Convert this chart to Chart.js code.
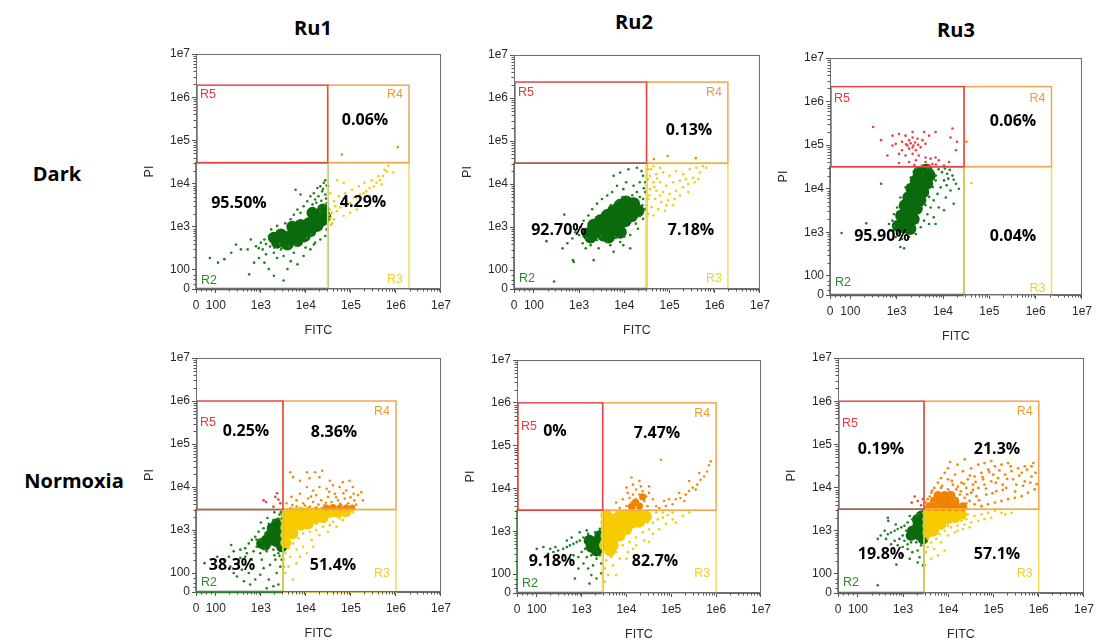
<!DOCTYPE html>
<html><head><meta charset="utf-8">
<script src="https://cdn.jsdelivr.net/npm/chart.js@4.4.1/dist/chart.umd.min.js"></script>
<style>
html,body{margin:0;padding:0;background:#fff;}
body{width:1098px;height:640px;position:relative;overflow:hidden;}
.ttl{position:absolute;font-family:'Open Sans',sans-serif;font-weight:700;color:#000;transform:translate(-50%,-50%);white-space:nowrap;font-size:20px;}
canvas{position:absolute;}
</style></head><body>
<script>
// ---------- text ----------
const columnTitles = ['Ru1', 'Ru2', 'Ru3'];
const rowTitles = ['Dark', 'Normoxia'];
const xAxisTitle = 'FITC';
const yAxisTitle = 'PI';
const tickValues = [0, 100, 1e3, 1e4, 1e5, 1e6, 1e7];
const tickLabels = ['0', '100', '1e3', '1e4', '1e5', '1e6', '1e7'];
const regionNames = ['R2', 'R3', 'R4', 'R5'];

// ---------- gates (per panel: Ru1 Dark, Ru2 Dark, Ru3 Dark, Ru1 Normoxia, Ru2 Normoxia, Ru3 Normoxia) ----------
const gateQuadX = [3.05e4, 3.1e4, 2.85e4, 3.1e3, 2.95e3, 2.9e3];
const gateQuadY = [3.05e4, 3.05e4, 3.2e4, 3.0e3, 3.1e3, 3.15e3];
const gateMaxX = [1.95e6, 1.95e6, 2.2e6, 1e6, 1e6, 1e6];
const gateMaxY = [1.9e6, 2.35e6, 2.2e6, 1e6, 1e6, 1e6];

// ---------- percentages ----------
const pctR2 = ['95.50%', '92.70%', '95.90%', '38.3%', '9.18%', '19.8%'];
const pctR3 = ['4.29%', '7.18%', '0.04%', '51.4%', '82.7%', '57.1%'];
const pctR4 = ['0.06%', '0.13%', '0.06%', '8.36%', '7.47%', '21.3%'];
const pctR5 = [null, null, null, '0.25%', '0%', '0.19%'];

// ---------- events [FITC, PI] ----------
// Ru1 Dark
const ru1DarkLiveCore = [[2.3e3,430],[3.2e3,510],[4.6e3,630],[6.5e3,790],[8.9e3,950],[1.15e4,1.2e3],[1.5e4,1.5e3],[1.9e4,1.9e3],[2.4e4,2.5e3],[3.9e3,390],[6.5e3,470],[9.3e3,600],[2.8e3,660],[5e3,1e3],[1.26e4,790],[1.8e4,1.05e3],[2.3e4,1.4e3],[1.4e4,2.1e3],[2.7e4,1.7e3],[7.6e3,1.1e3],[1.95e3,560]];
const ru1DarkLive = [[2.7e4,1.2e4],[2.5e4,1.05e4],[2.1e4,8.7e3],[1.8e4,7.9e3],[2.3e4,6.6e3],[2.7e4,5.6e3],[1.5e4,6e3],[1.26e4,5.1e3],[1.9e4,5.1e3],[1.6e4,4.3e3],[1.07e4,3.9e3],[1.4e4,3.3e3],[8.9e3,3e3],[6.5e3,2.5e3],[7.6e3,2.1e3],[5.4e3,1.9e3],[5.9e3,7.2e3],[7.6e3,5.6e3],[4.6e3,1.5e3],[3.5e3,1.2e3],[2.3e3,1.05e3],[1.7e3,870],[1.5e3,610],[1.2e3,510],[1e3,430],[780,355],[600,510],[510,300],[360,300],[280,390],[220,250],[155,178],[112,148],[70,190],[550,77],[1.2e3,148],[1.5e3,105],[2.3e3,190],[3.2e3,210],[4.6e3,160],[3.9e3,105],[6.5e3,135],[8.9e3,210],[1.26e4,300],[1.6e4,430],[2.1e4,510],[2.7e4,610],[2.9e4,870],[1.95e3,250],[2.8e3,300],[1.3e3,230],[910,190],[710,148],[1.95e3,70],[3.2e3,45],[1.5e4,390],[9.8e3,330],[5.4e3,250],[2.2e4,4e3],[2.5e4,3.2e3],[2e4,2.8e3],[2.8e4,4.5e3],[2.4e4,7.5e3],[2.9e4,9e3],[1.7e4,3.6e3],[2.1e4,2.3e3],[2.8e4,2.2e3],[2.9e4,3.5e3],[1.1e3,300],[1.6e3,350],[2.6e3,400],[1.3e3,400],[900,320],[2e3,330],[3e3,330],[4.2e3,350],[6e3,380],[1.05e4,560],[1.3e4,650]];
const ru1DarkEarly = [[3.2e4,1.9e3],[3.5e4,1.6e3],[3.8e4,2.1e3],[3.4e4,2.5e3],[4.2e4,1.5e3],[4.9e4,2.3e3],[4.5e4,3e3],[5.8e4,2.8e3],[6.9e4,3.3e3],[8.1e4,3.9e3],[9.6e4,3.5e3],[1.15e5,4.7e3],[1.35e5,5.1e3],[1.6e5,5.6e3],[1.9e5,6e3],[2.2e5,6.6e3],[2.6e5,7.9e3],[3.2e5,8.7e3],[3.7e5,1.05e4],[4.4e5,1.2e4],[5.2e5,1.5e4],[6.2e5,1.9e4],[6.8e5,2.6e4],[5.6e5,2.1e4],[4.1e5,1.5e4],[2.9e5,1.2e4],[2e5,1.05e4],[1.5e5,8.7e3],[1.05e5,7.2e3],[7.4e4,6e3],[5.4e4,5.1e3],[4.2e4,3.9e3],[3.5e4,6e3],[3.2e4,8.7e3],[4.9e4,1.2e4],[6.9e4,1.05e4],[9.6e4,2.1e3],[1.35e5,2.5e3],[6.9e4,1.8e3],[3.8e4,1.2e3],[2.6e5,5.1e3],[4.8e5,9.5e3],[8.7e5,1.8e4],[3.2e4,1.35e3],[3.6e4,1.1e3]];
const ru1DarkLate = [[6.3e4,4.7e4],[1.1e6,7e4]];
// Ru2 Dark
const ru2DarkLiveCore = [[1.6e3,700],[2.3e3,760],[3.2e3,910],[4.5e3,1.2e3],[6.3e3,1.55e3],[8.9e3,2e3],[1.23e4,2.6e3],[1.6e4,3.5e3],[2.1e3,1.1e3],[2.95e3,1.4e3],[4.2e3,1.85e3],[5.8e3,2.4e3],[8.1e3,3.2e3],[3.5e3,650],[5.4e3,830],[7.4e3,1.1e3],[1.05e4,1.4e3],[1.45e4,1.85e3],[1.8e3,590],[1.1e4,3.8e3],[2e4,2.4e3],[4.5e3,590],[8.1e3,760]];
const ru2DarkLive = [[5.8e3,1.55e4],[8.1e3,1.85e4],[1.23e4,2.2e4],[1.9e4,2.4e4],[2.4e4,2e4],[2.6e4,1.55e4],[2.2e4,1.1e4],[1.6e4,9.1e3],[1.1e4,1.1e4],[9.5e3,7.6e3],[6.9e3,9.1e3],[5.4e3,6.5e3],[4.2e3,5.4e3],[3.2e3,4.5e3],[2.5e3,3.5e3],[1.95e3,2.6e3],[1.6e3,1.85e3],[1.26e3,1.4e3],[1.07e3,1e3],[830,760],[710,540],[550,420],[430,320],[760,155],[2.1e3,170],[2.7e3,320],[4.9e3,380],[8.1e3,450],[1.35e4,650],[2e4,910],[2.6e4,1.55e3],[2.9e4,2.6e3],[2.6e4,4.5e3],[2.9e4,6.5e3],[1.9e4,6.5e3],[1.2e3,420],[1.4e3,320],[1.8e3,380],[2.9e4,1.1e4],[280,40],[190,470],[470,1.95e3],[730,170],[1.35e4,320],[5.8e3,265],[9.5e3,380],[3e3,600],[2.5e3,500],[4e3,450],[1.5e3,550],[6.5e3,560],[1e4,600],[1.8e4,1.2e3],[2.2e4,1.8e3],[2.5e4,3.2e3],[2.2e4,5e3],[1.5e4,5.5e3],[1.2e4,4.8e3],[9e3,5e3],[7e3,4e3],[5e3,3.2e3],[2.7e4,8e3],[1.3e3,800],[1e3,650]];
const ru2DarkEarly = [[3.4e4,2.2e4],[4.4e4,2.6e4],[6.2e4,2.4e4],[3.7e4,1.55e4],[5.1e4,1.7e4],[7.2e4,1.85e4],[1e5,1.55e4],[1.4e5,2e4],[2e5,1.7e4],[2.8e5,2.2e4],[3.9e5,2.4e4],[5.5e5,2.6e4],[4.4e4,1.1e4],[6.2e4,1.1e4],[8.5e4,9.1e3],[1.2e5,1.1e4],[1.7e5,1.2e4],[2.3e5,1.3e4],[3.3e5,1.4e4],[4.7e5,1.85e4],[6.5e5,2.4e4],[3.7e4,7.6e3],[5.1e4,7e3],[7.2e4,6.5e3],[1e5,5.9e3],[1.4e5,7e3],[2e5,8.4e3],[2.6e5,1e4],[3.6e5,1.1e4],[3.4e4,4.5e3],[4.8e4,4.5e3],[6.6e4,3.8e3],[9.3e4,4.2e3],[1.3e5,4.5e3],[1.7e5,5.4e3],[4e4,2.9e3],[5.6e4,2.6e3],[7.9e4,2.4e3],[3.4e4,2e3],[4.4e4,1.85e3],[6.2e4,5.4e3],[8.5e4,3.2e3],[1.2e5,3.2e3],[3.1e4,9.1e3],[3.1e4,3.2e3],[4.3e5,1.3e4],[2.6e5,6.5e3],[3.3e4,1.3e4],[3.6e4,5.5e3],[3.9e4,2.2e4],[4.6e4,8.5e3],[5.3e4,1.35e4],[3.2e4,2.7e4]];
const ru2DarkLate = [[9.1e4,4.5e4],[3.8e5,4e4],[4.5e4,3.8e4]];
// Ru3 Dark
const ru3DarkLiveCore = [[1.45e3,1.3e3],[1.7e3,2.2e3],[2e3,3.7e3],[2.3e3,5.9e3],[2.8e3,9.1e3],[3.3e3,1.4e4],[3.9e3,2.2e4],[4.3e3,2.7e4],[1.07e3,1.4e3],[1.26e3,2.4e3],[1.5e3,4.1e3],[1.8e3,6.3e3],[2.1e3,1e4],[2.6e3,1.55e4],[3e3,2.3e4],[1.95e3,1.2e3],[2.3e3,2e3],[2.7e3,3.5e3],[3.2e3,5.4e3],[3.7e3,8.3e3],[4.5e3,1.3e4],[5.1e3,2e4],[1.55e3,1.7e3],[1.85e3,2.9e3],[2.15e3,4.7e3],[2.55e3,7.4e3],[3e3,1.15e4],[3.6e3,1.75e4]];
const ru3DarkLive = [[810,1.85e3],[740,1.1e3],[950,780],[1.3e3,700],[1.85e3,780],[2.6e3,910],[3.3e3,1.3e3],[3.9e3,1.85e3],[4.6e3,2.6e3],[5.4e3,3.7e3],[6.3e3,5.4e3],[7.6e3,7.6e3],[8.9e3,1.07e4],[1.05e4,1.55e4],[1.23e4,2.2e4],[1.6e4,2e4],[1.9e4,1.3e4],[1.45e4,9.1e3],[1.15e4,6.3e3],[8.1e3,3.7e3],[6.3e3,2.2e3],[5e3,1.55e3],[6.9e3,1.55e4],[9.5e3,2.4e4],[5.9e3,2.6e4],[4.6e3,2.95e4],[2.6e3,2.9e4],[2e3,1.8e4],[1.55e3,1.07e4],[1.2e3,6.3e3],[1.02e3,3.7e3],[870,2.6e3],[680,1.55e3],[1.2e3,460],[460,1.3e4],[220,1.6e3],[1.45e3,430],[57,960],[6.9e3,1.55e3],[1.05e4,3.2e3],[1.7e4,4.5e3],[2.2e4,1e4],[7e3,2e4],[8e3,2.8e4],[1.1e4,2.9e4],[1.4e4,2.7e4],[6e3,1.1e4],[1.3e4,1.7e4],[1.7e4,1.6e4],[1.2e4,1.2e4],[5e3,6.5e3],[4.2e3,4.2e3],[900,1.4e3],[1.1e3,950]];
const ru3DarkDead = [[310,2.6e5],[810,1.65e5],[1.12e3,1.8e5],[1.55e3,1.65e5],[2.2e3,1.5e5],[2.8e3,1.4e5],[3.6e3,1.3e5],[4.2e3,1.07e5],[1.85e3,1.3e5],[1.3e3,1.2e5],[950,1.07e5],[810,9.8e4],[1.7e3,9.8e4],[2.3e3,9.8e4],[3.3e3,8.9e4],[1.85e3,8.3e4],[2.6e3,7.6e4],[1.3e3,7.6e4],[1.12e3,6.3e4],[1.55e3,5.8e4],[2.2e3,6.3e4],[3e3,5.8e4],[4.2e3,5.2e4],[5.4e3,4.9e4],[6.9e3,5.2e4],[8.1e3,4.5e4],[5.9e3,3.7e4],[4.2e3,4.1e4],[2.6e3,4.5e4],[1.85e3,4.1e4],[1.12e3,3.9e4],[1.05e4,3.4e4],[1.35e4,4.1e4],[1.6e4,2.4e5],[1.45e4,1.5e5],[1.9e4,7.6e4],[2e4,1.2e5],[6.9e3,2e5],[5e3,1.65e5],[3.9e3,2e5],[630,5.8e4],[460,1.3e5],[2.2e3,2e5],[2e3,1.1e5],[2.5e3,1.15e5],[1.6e3,1.05e5],[2.2e3,8.8e4],[2.9e3,1.02e5],[3.5e3,3.4e4],[5e3,3.5e4],[7e3,3.6e4],[2.4e3,3.5e4]];
const ru3DarkLate = [[3.2e4,1.2e5]];
const ru3DarkEarly = [[4.1e4,1.35e4]];
// Ru1 Normoxia
const ru1NormLiveCore = [[2.45e3,1.1e3],[2.7e3,830],[2.7e3,650],[2.1e3,910],[2.1e3,700],[1.6e3,760],[1.75e3,590],[2.25e3,540],[1.35e3,590],[1.25e3,450],[1.05e3,490],[2.9e3,1.3e3],[2.25e3,1.4e3],[1.8e3,1.1e3],[2.9e3,410]];
const ru1NormLive = [[2.9e3,1.85e3],[2.45e3,1.85e3],[1.9e3,1.7e3],[1.5e3,1.4e3],[1.15e3,1.1e3],[890,910],[750,700],[630,590],[540,490],[450,380],[350,350],[250,320],[195,240],[150,205],[810,410],[690,320],[970,290],[1.35e3,320],[1.9e3,350],[2.45e3,290],[2.1e3,205],[1.6e3,155],[1.15e3,130],[970,91],[750,66],[540,100],[380,120],[295,82],[1.5e3,66],[2.25e3,100],[2.7e3,141],[2.9e3,205],[630,205],[1.05e3,205],[450,240],[320,170],[210,141],[1.9e3,30],[1.35e3,20],[2.45e3,39],[580,39],[420,57],[970,590],[1.25e3,830],[490,290],[350,225],[250,100],[107,240],[43,170],[220,450],[2.6e3,2.3e3],[2e3,2.6e3],[1.4e3,1.9e3],[1e3,1.5e3],[2.8e3,2.6e3],[800,600],[1.7e3,460],[2.6e3,250],[2e3,260],[1.2e3,370]];
const ru1NormEarlyCore = [[3.6e3,2.4e3],[5.2e3,2.5e3],[7.6e3,2.6e3],[1.12e4,2.6e3],[1.65e4,2.6e3],[2.4e4,2.6e3],[3.5e4,2.6e3],[5.1e4,2.6e3],[3.6e3,1.7e3],[5.2e3,1.7e3],[7.6e3,1.7e3],[1.12e4,1.8e3],[1.65e4,1.85e3],[2.4e4,1.95e3],[3.6e3,1.15e3],[5.2e3,1.2e3],[7.6e3,1.3e3],[1.12e4,1.4e3],[3.6e3,760],[5.1e3,830],[3.6e3,510],[7.6e4,2.7e3]];
const ru1NormEarly = [[1.02e5,2.8e3],[8.7e4,2.2e3],[5.6e4,1.85e3],[4e4,1.55e3],[3.4e4,1.3e3],[2.4e4,1.2e3],[1.7e4,1e3],[1.23e4,910],[8.7e3,830],[6.8e3,650],[5.2e3,490],[4.1e3,380],[3.5e3,290],[4.5e3,240],[6.2e3,350],[8.7e3,410],[1.35e4,590],[2e4,760],[3.1e4,910],[4.8e4,1.2e3],[6.6e4,1.7e3],[6.2e3,170],[4.1e3,141],[3.5e3,100],[5.2e3,66],[7.4e3,240],[1.05e4,290],[1.45e4,410],[3.2e3,205],[3.3e3,141],[1.7e4,1.4e3],[2.6e4,1.55e3],[1.05e4,1.1e3],[6.2e3,910],[1.1e5,2.6e3]];
const ru1NormLateCore = [[2.9e4,3.3e3],[4e4,3.4e3],[5.6e4,3.3e3],[7.9e4,3.3e3],[1.07e5,3.3e3]];
const ru1NormLate = [[3.7e3,4.2e3],[4.8e3,5.9e3],[6.2e3,4.9e3],[7.4e3,7e3],[8.7e3,4.2e3],[1.12e4,5.4e3],[1.45e4,4.5e3],[1.7e4,6.5e3],[2.2e4,4.9e3],[2.6e4,3.8e3],[3.1e4,5.9e3],[3.7e4,4.5e3],[4.4e4,7e3],[5.2e4,4.9e3],[6.1e4,3.8e3],[7.3e4,5.4e3],[8.7e4,4.2e3],[1.02e5,3.5e3],[1.2e5,4.9e3],[1.45e5,6.5e3],[1.7e5,7.6e3],[1.1e5,1e4],[7.9e4,8.3e3],[5.6e4,1e4],[4e4,1.1e4],[2.9e4,9.1e3],[2e4,1e4],[1.45e4,8.3e3],[1.05e4,1e4],[7.4e3,1.4e4],[5.2e3,1.7e4],[4.5e3,2.2e4],[1.6e4,2.2e4],[2e4,1.7e4],[3.4e4,1.4e4],[6.6e4,1.3e4],[9.3e4,1.4e4],[2.4e4,3.3e3],[3.4e4,3.3e3],[4.8e4,3.3e3],[6.6e4,3.3e3],[1.7e4,3.3e3],[1.23e4,3.5e3],[6.2e3,3.5e3],[4.5e3,3.2e3],[1.05e4,2.2e4],[1.85e5,4.9e3],[5e3,3.8e3],[9.5e3,3.7e3],[1.3e4,6e3],[1.9e4,3.9e3],[2.8e4,4.3e3],[3.3e4,7.8e3],[4.7e4,5.8e3],[5.8e4,4.1e3],[6.8e4,7.2e3],[8.2e4,3.7e3],[9.8e4,5.8e3],[1.3e5,3.9e3],[1.15e5,7e3],[2.3e4,2.4e4],[1.2e4,1.6e4]];
const ru1NormDead = [[1.15e3,4.9e3],[1.3e3,4.5e3],[2.1e3,5.9e3],[2.3e3,7.2e3],[2.45e3,5.1e3],[1.9e3,3.5e3],[2.7e3,4.2e3]];
// Ru2 Normoxia
const ru2NormLiveCore = [[2.35e3,610],[2.55e3,470],[2e3,510],[1.65e3,430],[2.6e3,790],[2.15e3,355],[1.5e3,610]];
const ru2NormLive = [[2.55e3,1.15e3],[2e3,950],[1.4e3,870],[1.1e3,720],[910,610],[780,560],[660,510],[550,470],[470,430],[390,390],[300,355],[235,330],[180,300],[1.2e3,390],[1e3,330],[850,250],[660,275],[1.3e3,250],[1.65e3,275],[2.15e3,230],[2.55e3,275],[1.8e3,160],[1.4e3,135],[1.1e3,178],[850,135],[1.65e3,95],[2.15e3,77],[550,230],[390,275],[330,190],[260,430],[200,390],[141,430],[100,390],[470,610],[600,720],[910,950],[1.3e3,1.05e3],[2.75e3,178],[2.75e3,105],[1.5e3,50],[710,77]];
const ru2NormEarlyCore = [[3.55e3,560],[3.55e3,790],[3.55e3,1.12e3],[3.55e3,1.6e3],[3.55e3,2.4e3],[5e3,1.9e3],[5e3,1.35e3],[5e3,950],[5e3,660],[5e3,470],[7.1e3,2.3e3],[7.1e3,1.6e3],[7.1e3,1.12e3],[7.1e3,790],[1e4,2.4e3],[1e4,1.6e3],[1e4,1.12e3],[1.4e4,2.4e3],[1.4e4,1.6e3],[1.95e4,2.4e3],[1.95e4,1.65e3],[2.75e4,2.2e3],[4.3e3,355],[3.3e3,470]];
const ru2NormEarly = [[3.9e4,1.6e3],[5e4,1.9e3],[6.5e4,2.1e3],[8.3e4,2.4e3],[1.07e5,2.75e3],[3.2e4,1.12e3],[2.3e4,950],[1.65e4,720],[1.17e4,560],[8.3e3,470],[5.9e3,330],[4.6e3,250],[3.55e3,210],[3.3e3,135],[3.9e3,95],[5e3,160],[7.1e3,230],[1.07e4,330],[1.65e4,470],[2.5e4,610],[3.9e4,870],[5.4e4,1.12e3],[7.6e4,1.5e3],[1.07e5,1.9e3],[4.6e4,2.75e3],[6.5e4,2.75e3],[3.2e4,560],[1.4e4,390],[1e4,230],[5.9e3,95],[3.3e3,60],[1.8e5,2.3e3],[2.5e5,2.75e3],[1.26e5,1.6e3],[2.95e4,1.6e3],[3.55e3,330]];
const ru2NormLateCore = [[1.6e4,4.8e3],[1.95e4,3.9e3],[1.3e4,3.8e3],[2.3e4,6.4e3]];
const ru2NormLate = [[1e4,3.9e3],[1.3e4,4.7e3],[1.65e4,5.6e3],[1.95e4,7.2e3],[2.3e4,8.7e3],[2.1e4,1.12e4],[1.65e4,9.5e3],[1.4e4,7.2e3],[1.17e4,6e3],[1.8e4,4.3e3],[2.5e4,5.1e3],[2.95e4,3.9e3],[1.5e4,3.5e3],[8.3e3,5.6e3],[1.07e4,7.9e3],[1.4e4,1.23e4],[1.95e4,1.5e4],[2.75e4,6.6e3],[3.2e4,7.9e3],[3.9e4,5.6e3],[4.6e4,3.9e3],[7.1e3,3.5e3],[5.9e3,4.7e3],[1e4,1.05e4],[5.9e4,4.7e4],[3.2e4,1.12e4],[1.3e4,1.8e4],[5.4e4,3.5e3],[7.6e4,3.9e3],[1.07e5,4.3e3],[1.26e5,5.6e3],[1.6e5,6e3],[2.1e5,7.2e3],[2.5e5,8.7e3],[3e5,1.05e4],[3.8e5,1.23e4],[4.5e5,1.6e4],[5.4e5,1.9e4],[6.3e5,2.5e4],[6.9e5,3.5e4],[7.6e5,4.3e4],[3.5e5,9.5e3],[1.95e5,5.1e3],[8.9e4,5.6e3],[6.9e4,5.1e3],[1.5e5,7.9e3],[2.5e5,1.5e4],[4.2e5,2.3e4]];
// Ru3 Normoxia
const ru3NormLiveCore = [[2.5e3,2.2e3],[2.5e3,1.55e3],[2.5e3,1.1e3],[2.1e3,1.3e3],[1.95e3,910],[1.6e3,1e3],[1.5e3,780],[2.3e3,780],[2.75e3,650],[2.05e3,1.8e3]];
const ru3NormLive = [[2.75e3,2.9e3],[2.1e3,2.4e3],[1.6e3,1.85e3],[1.26e3,1.55e3],[1.07e3,1.3e3],[910,1.2e3],[760,1.1e3],[650,1e3],[540,910],[460,830],[390,1e3],[460,2e3],[690,1.4e3],[1.17e3,1e3],[980,780],[830,650],[1.07e3,590],[1.26e3,490],[1.5e3,540],[1.95e3,540],[2.5e3,460],[2.1e3,350],[1.6e3,320],[1.26e3,380],[980,420],[760,460],[650,590],[540,490],[420,650],[320,780],[275,650],[1.4e3,225],[2.3e3,245],[2.75e3,158],[275,41],[2.1e3,185],[980,270],[1.8e3,2.2e3],[1.4e3,2.2e3],[245,0],[470,1.7e3],[710,165]];
const ru3NormEarlyCore = [[3.5e3,2.6e3],[4.9e3,2.6e3],[6.9e3,2.6e3],[9.8e3,2.6e3],[1.4e4,2.6e3],[3.5e3,1.85e3],[4.9e3,1.85e3],[6.9e3,1.85e3],[9.8e3,1.9e3],[1.4e4,2e3],[3.5e3,1.3e3],[4.9e3,1.35e3],[6.9e3,1.4e3],[3.5e3,910],[4.8e3,1e3],[1.95e4,2.4e3]];
const ru3NormEarly = [[2.7e4,2.4e3],[3.8e4,2.2e3],[5.4e4,2.4e3],[7.6e4,2.6e3],[1.07e5,2.9e3],[1.5e5,2.6e3],[4.6e4,1.7e3],[3.2e4,1.55e3],[2.3e4,1.4e3],[1.6e4,1.3e3],[1.15e4,1.2e3],[8.3e3,1e3],[6.5e3,830],[5.4e3,650],[4.2e3,540],[3.5e3,420],[3.2e3,320],[4.9e3,380],[6.9e3,540],[9.8e3,780],[1.4e4,910],[2.1e4,1.1e3],[2.95e4,1.2e3],[6.3e4,1.85e3],[8.9e4,2e3],[1.8e5,2.4e3],[4.2e3,225],[5.9e3,270],[3.1e3,158],[1.15e4,1.85e3],[1.95e4,1.7e3],[2.5e4,1.85e3],[9.8e3,1.3e3],[3.5e3,650],[4.6e3,780],[1.6e4,1e3],[8.3e3,350],[2.5e5,2.6e3]];
const ru3NormLateCore = [[3.8e3,3.6e3],[5.4e3,3.6e3],[7.6e3,3.6e3],[1.07e4,3.6e3],[1.5e4,3.6e3],[2.1e4,3.6e3],[4.9e3,4.9e3],[6.9e3,4.9e3],[9.8e3,4.9e3],[1.4e4,4.9e3],[5.9e3,6.6e3],[8.3e3,6.6e3],[1.15e4,6.6e3]];
const ru3NormLate = [[3.5e3,5.4e3],[4.2e3,7.6e3],[4.9e3,9.8e3],[5.9e3,1.3e4],[6.9e3,1.65e4],[8.3e3,2.2e4],[9.8e3,1.55e4],[1.26e4,1.17e4],[1.5e4,9.1e3],[1.8e4,6.9e3],[2.3e4,5.8e3],[2.95e4,4.9e3],[3.8e4,4.1e3],[5.4e4,3.7e3],[7.6e4,4.1e3],[1.07e5,4.5e3],[1.5e5,4.9e3],[2.1e5,5.4e3],[2.95e5,5.8e3],[4.2e5,6.3e3],[5.8e5,7.6e3],[8.1e5,9.1e3],[3.2e4,7.6e3],[4.6e4,9.8e3],[6.3e4,1.17e4],[8.9e4,1.4e4],[1.26e5,1.65e4],[1.8e5,2e4],[2.5e5,2.4e4],[3.5e5,2.8e4],[4.9e5,3.1e4],[7.6e5,3.7e4],[1.95e4,1.3e4],[2.7e4,1.55e4],[3.8e4,1.8e4],[5.4e4,2.2e4],[7.6e4,2.6e4],[1.07e5,3.1e4],[1.5e5,3.4e4],[2.1e5,3.7e4],[1.4e4,2e4],[2.1e4,2.4e4],[3.2e4,2.8e4],[4.6e4,3.4e4],[6.3e4,3.7e4],[8.9e4,4.1e4],[1.6e4,3.4e4],[9.8e3,2.8e4],[6.9e3,9.8e3],[9.8e3,9.1e3],[2.5e4,9.8e3],[4.2e4,6.3e3],[6.9e4,6.9e3],[1.15e5,8.3e3],[1.9e5,9.8e3],[3.2e5,1.17e4],[4.9e5,1.4e4],[6.9e5,1.8e4],[2.7e5,1.55e4],[4.2e5,2.2e4],[6.9e5,3.1e4],[1.6e5,1.17e4],[9.8e4,2e4],[5.9e4,1.55e4],[3.5e4,1.17e4],[4.6e3,4.5e3],[3.2e3,4.5e3],[3.9e3,6.2e3],[4.4e3,8.5e3],[5.2e3,5.8e3],[6.1e3,7.8e3],[7.3e3,1.1e4],[8.8e3,5.5e3],[1.05e4,7.9e3],[1.2e4,1.42e4],[1.38e4,5.3e3],[1.62e4,1.05e4],[1.9e4,8.2e3],[2.2e4,1.22e4],[2.6e4,7e3],[3e4,1.9e4],[3.5e4,8.8e3],[4e4,1.35e4],[4.8e4,5.1e3],[5.7e4,1.75e4],[6.8e4,9.5e3],[8e4,2.3e4],[9.5e4,7.4e3],[1.12e5,1.3e4],[1.35e5,2.5e4],[1.6e5,8.8e3],[2e5,1.6e4],[2.4e5,3.1e4],[3e5,8.1e3],[3.7e5,1.9e4],[4.5e5,1.1e4],[5.5e5,2.6e4],[6.5e5,1.3e4],[8.5e5,2.2e4],[9e5,1.2e4],[1.25e4,4.2e3],[1.75e4,4e3],[2.5e4,4.3e3],[8e3,4.2e3],[5.8e3,4.1e3],[1.1e4,3.9e4],[2.3e4,4.5e4]];
const ru3NormDead = [[1.8e3,6.2e3],[2.1e3,4.9e3],[2.5e3,3.9e3],[1.55e3,4.5e3],[2.75e3,5.4e3]];

// ---------- look ----------
const COL = {
  live: '#1f7f1f', liveCore: '#0b6a0b',
  early: '#f1cc10', earlyCore: '#f7cb00',
  late: '#f08a12', lateCore: '#ef8300',
  dead: '#e4423c',
  gR2: '#2f7d2f', gR3: '#f2dc5a', gR4: '#f2a54c', gR5: '#e24848',
  tR2: '#2c8a2c', tR3: '#f2cf2e', tR4: '#f19a32', tR5: '#e8383d'
};
const U0 = 1.56;   // axis position of value 0 (in decades), hyperlog-like display
function toU(v){ return v <= 0 ? U0 : (v < 100 ? U0 + (2 - U0) * v / 100 : Math.log10(v)); }
function fromU(u){ return u <= U0 ? 0 : (u < 2 ? (u - U0) / (2 - U0) * 100 : Math.pow(10, u)); }

class HLogScale extends Chart.Scale {
  determineDataLimits(){ this.min = 0; this.max = 1e7; }
  buildTicks(){ return tickValues.map(v => ({value: v})); }
  getLabelForValue(v){ return String(v); }
  configure(){ super.configure(); this._u0 = toU(this.min); this._ur = toU(this.max) - this._u0; }
  getPixelForValue(v){ return this.getPixelForDecimal((toU(v) - this._u0) / this._ur); }
  getValueForPixel(p){ return fromU(this._u0 + this.getDecimalForPixel(p) * this._ur); }
}
HLogScale.id = 'hlog';
HLogScale.defaults = {};
Chart.register(HLogScale);

const minorTicks = [];
[2,3,4,5,6].forEach(k => { for (let m = 2; m <= 9; m++) minorTicks.push(m * Math.pow(10, k)); });
[25, 50, 75].forEach(v => minorTicks.push(v));

// layout: chart-area boxes [L,T,R,B], region label offsets, percent-label offsets (from area left/top)
const panelLayout = [
  {box:[196,54,442,289], lab:[9,9.5,-9,-8.3], pos:{R2:[43,149],R3:[167,148],R4:[169,66]}, coreR:6},
  {box:[514,55,761,289], lab:[10.7,10.7,-10,-10], pos:{R2:[45,175],R3:[177,175],R4:[175,75]}, coreR:6.5},
  {box:[830,58,1083,295], lab:[11.5,11.5,-6.7,-12.3], pos:{R2:[52,178],R3:[183,178],R4:[183,63]}, coreR:6.2},
  {box:[196,358,442,592], lab:[21.6,11,-18.4,-9.4], pos:{R2:[36,207],R3:[137,207],R4:[138,74],R5:[50,73]}, coreR:5.6},
  {box:[517,360,762,593], lab:[23.7,11,-19,-9.3], pos:{R2:[35,201],R3:[138,201],R4:[140,73],R5:[38,71]}, coreR:5.8},
  {box:[838,358,1085,593], lab:[22,10.7,-19,-10], pos:{R2:[43,196],R3:[159,196],R4:[159,91],R5:[43,91]}, coreR:5.4}
];
const panelSets = [
  [[ru1DarkLive,'live',1.3],[ru1DarkEarly,'early',1.3],[ru1DarkLate,'late',1.3],[ru1DarkLiveCore,'liveCore','core']],
  [[ru2DarkLive,'live',1.3],[ru2DarkEarly,'early',1.3],[ru2DarkLate,'late',1.3],[ru2DarkLiveCore,'liveCore','core']],
  [[ru3DarkLive,'live',1.3],[ru3DarkDead,'dead',1.3],[ru3DarkLate,'late',1.3],[ru3DarkEarly,'early',1.3],[ru3DarkLiveCore,'liveCore','core']],
  [[ru1NormLive,'live',1.3],[ru1NormEarly,'early',1.3],[ru1NormLate,'late',1.3],[ru1NormDead,'dead',1.3],[ru1NormLateCore,'lateCore',3.2],[ru1NormEarlyCore,'earlyCore','core'],[ru1NormLiveCore,'liveCore','core']],
  [[ru2NormLive,'live',1.3],[ru2NormEarly,'early',1.3],[ru2NormLate,'late',1.3],[ru2NormLateCore,'lateCore',3.6],[ru2NormEarlyCore,'earlyCore','core'],[ru2NormLiveCore,'liveCore','core']],
  [[ru3NormLive,'live',1.3],[ru3NormEarly,'early',1.3],[ru3NormLate,'late',1.4],[ru3NormDead,'dead',1.3],[ru3NormLateCore,'lateCore',4.4],[ru3NormEarlyCore,'earlyCore','core'],[ru3NormLiveCore,'liveCore','core']]
];

const YW = 58, XH = 49, PT = 10, PR = 14;
const TICK_FONT = {family:"'Liberation Sans', Arial, sans-serif", size: 12};
const TITLE_FONT = {family:"'Liberation Sans', Arial, sans-serif", size: 12.5};

function makePanel(i){
  const lay = panelLayout[i];
  const [L,T,R,B] = lay.box;
  const cv = document.createElement('canvas');
  const w = (R - L) + YW + PR, h = (B - T) + PT + XH;
  cv.width = w; cv.height = h;
  cv.style.left = (L - YW) + 'px'; cv.style.top = (T - PT) + 'px';
  cv.style.width = w + 'px'; cv.style.height = h + 'px';
  document.body.appendChild(cv);

  const datasets = panelSets[i].map(([arr, kind, r]) => ({
    data: arr.map(([x, y]) => ({x, y})),
    backgroundColor: COL[kind], borderWidth: 0,
    pointRadius: r === 'core' ? lay.coreR : r, pointHoverRadius: 0
  }));

  const flowPlugin = {
    id: 'flow' + i,
    afterDatasetsDraw(chart){
      const ctx = chart.ctx, xs = chart.scales.x, ys = chart.scales.y;
      const x0 = xs.getPixelForValue(0), xq = xs.getPixelForValue(gateQuadX[i]), xm = xs.getPixelForValue(gateMaxX[i]);
      const y0 = ys.getPixelForValue(0), yq = ys.getPixelForValue(gateQuadY[i]), ym = ys.getPixelForValue(gateMaxY[i]);
      ctx.save();
      ctx.lineWidth = 1.5;
      ctx.strokeStyle = COL.gR2; ctx.strokeRect(x0, yq, xq - x0, y0 - yq);
      ctx.lineWidth = 2.5; ctx.beginPath(); ctx.moveTo(x0, y0); ctx.lineTo(xq, y0); ctx.stroke();
      ctx.lineWidth = 1.5;
      ctx.strokeStyle = COL.gR3; ctx.strokeRect(xq, yq, xm - xq, y0 - yq);
      ctx.strokeStyle = COL.gR4; ctx.strokeRect(xq, ym, xm - xq, yq - ym);
      ctx.strokeStyle = COL.gR5; ctx.strokeRect(x0 + 1, ym, xq - x0 - 1, yq - ym);
      ctx.font = "12.5px 'Liberation Sans', Arial, sans-serif";
      ctx.textBaseline = 'middle';
      ctx.fillStyle = COL.tR5; ctx.textAlign = 'left'; ctx.fillText(regionNames[3], x0 + 4, ym + lay.lab[0]);
      ctx.fillStyle = COL.tR4; ctx.textAlign = 'right'; ctx.fillText(regionNames[2], xm - 6, ym + lay.lab[1]);
      ctx.fillStyle = COL.tR3; ctx.textAlign = 'right'; ctx.fillText(regionNames[1], xm - 6, y0 + lay.lab[2]);
      ctx.fillStyle = COL.tR2; ctx.textAlign = 'left'; ctx.fillText(regionNames[0], x0 + 5, y0 + lay.lab[3]);
      ctx.restore();
    },
    afterDraw(chart){
      const ctx = chart.ctx, a = chart.chartArea, xs = chart.scales.x, ys = chart.scales.y;
      ctx.save();
      ctx.strokeStyle = '#6e6e6e'; ctx.lineWidth = 1;
      ctx.strokeRect(a.left + 0.5, a.top + 0.5, a.right - a.left - 1, a.bottom - a.top - 1);
      ctx.strokeStyle = '#555'; ctx.beginPath();
      minorTicks.forEach(v => {
        const px = Math.round(xs.getPixelForValue(v)) + 0.5;
        ctx.moveTo(px, a.bottom); ctx.lineTo(px, a.bottom + 2.5);
        const py = Math.round(ys.getPixelForValue(v)) + 0.5;
        ctx.moveTo(a.left, py); ctx.lineTo(a.left - 2.5, py);
      });
      ctx.stroke();
      ctx.font = "bold 16px 'Open Sans', sans-serif";
      ctx.fillStyle = '#000'; ctx.textAlign = 'center'; ctx.textBaseline = 'middle';
      const vals = {R2: pctR2[i], R3: pctR3[i], R4: pctR4[i], R5: pctR5[i]};
      Object.keys(lay.pos).forEach(k => {
        if (vals[k]) ctx.fillText(vals[k], a.left + lay.pos[k][0], a.top + lay.pos[k][1]);
      });
      ctx.restore();
    }
  };

  const axisCommon = {
    type: 'hlog',
    ticks: {autoSkip: false, maxRotation: 0, minRotation: 0, font: TICK_FONT, color: '#2a2a2a',
            callback: v => tickLabels[tickValues.indexOf(v)]},
    grid: {drawOnChartArea: false, drawTicks: true, tickLength: 4, color: '#555', tickColor: '#555'},
    border: {display: true, color: '#6e6e6e', width: 1}
  };

  new Chart(cv, {
    type: 'scatter',
    data: {datasets},
    options: {
      responsive: false, animation: false, devicePixelRatio: 1, events: [],
      layout: {padding: {left: 0, top: PT, right: PR, bottom: 0}},
      plugins: {legend: {display: false}, tooltip: {enabled: false}},
      scales: {
        x: Object.assign({}, axisCommon, {
          position: 'bottom',
          ticks: Object.assign({}, axisCommon.ticks, {padding: 5}),
          title: {display: true, text: xAxisTitle, font: TITLE_FONT, color: '#2a2a2a', padding: {top: 4, bottom: 0}},
          afterFit: s => { s.height = XH; }
        }),
        y: Object.assign({}, axisCommon, {
          position: 'left',
          ticks: Object.assign({}, axisCommon.ticks, {padding: 2}),
          title: {display: true, text: yAxisTitle, font: TITLE_FONT, color: '#2a2a2a', padding: {top: 4, bottom: 0}},
          afterFit: s => { s.width = YW; }
        })
      }
    },
    plugins: [flowPlugin]
  });
}

// titles
const colTitlePos = [[313,27],[634,21],[956,29]];
const rowTitlePos = [[57,173],[74,480]];
columnTitles.forEach((t, k) => {
  const d = document.createElement('div'); d.className = 'ttl'; d.textContent = t;
  d.style.left = colTitlePos[k][0] + 'px'; d.style.top = colTitlePos[k][1] + 'px';
  document.body.appendChild(d);
});
rowTitles.forEach((t, k) => {
  const d = document.createElement('div'); d.className = 'ttl'; d.textContent = t;
  d.style.left = rowTitlePos[k][0] + 'px'; d.style.top = rowTitlePos[k][1] + 'px';
  document.body.appendChild(d);
});

for (let i = 0; i < 6; i++) makePanel(i);
</script>
</body></html>
